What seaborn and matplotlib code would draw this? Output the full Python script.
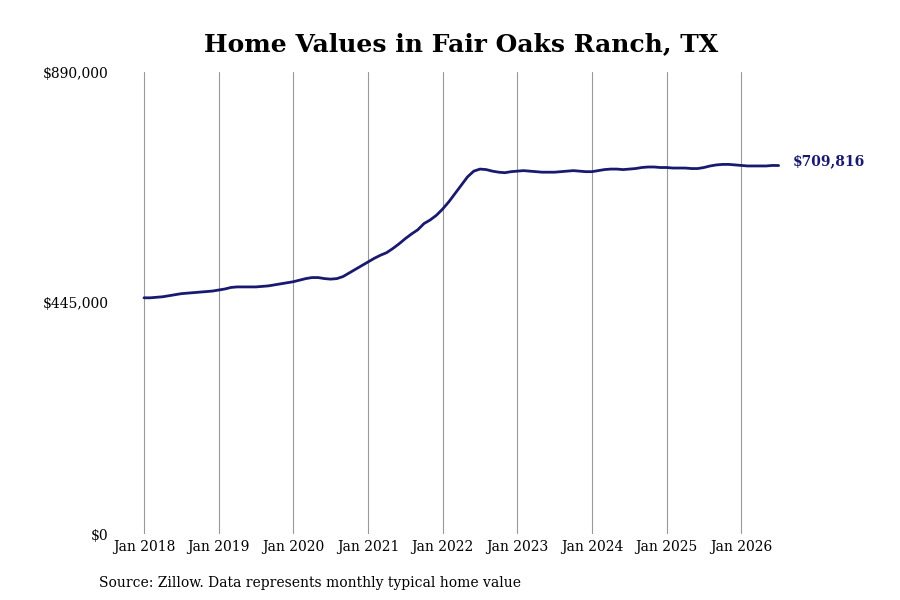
import numpy as np
import pandas as pd
import matplotlib.pyplot as plt
import seaborn as sns

# monthly typical home value, Jan 2018 - Jul 2026
values_2018 = [455000, 455000, 456000, 457000, 459000, 461000, 463000, 464000, 465000, 466000, 467000, 468000]
values_2019 = [470000, 472000, 475000, 476000, 476000, 476000, 476000, 477000, 478000, 480000, 482000, 484000]
values_2020 = [486000, 489000, 492000, 494000, 494000, 492000, 491000, 492000, 496000, 503000, 510000, 517000]
values_2021 = [524000, 531000, 537000, 542000, 550000, 559000, 569000, 578000, 586000, 598000, 605000, 614000]
values_2022 = [626000, 640000, 656000, 672000, 688000, 699000, 703000, 702000, 699000, 697000, 696000, 698000]
values_2023 = [699000, 700000, 699000, 698000, 697000, 697000, 697000, 698000, 699000, 700000, 699000, 698000]
values_2024 = [698000, 700000, 702000, 703000, 703000, 702000, 703000, 704000, 706000, 707000, 707000, 706000]
values_2025 = [706000, 705000, 705000, 705000, 704000, 704000, 706000, 709000, 711000, 712000, 712000, 711000]
values_2026 = [710000, 709000, 709000, 709000, 709000, 710000, 709816]

values = (values_2018 + values_2019 + values_2020 + values_2021 + values_2022
          + values_2023 + values_2024 + values_2025 + values_2026)
months = list(range(len(values)))

tick_months = [0, 12, 24, 36, 48, 60, 72, 84, 96]
tick_labels = ["Jan 2018", "Jan 2019", "Jan 2020", "Jan 2021", "Jan 2022",
               "Jan 2023", "Jan 2024", "Jan 2025", "Jan 2026"]
y_ticks = [0, 445000, 890000]
y_labels = ["$0", "$445,000", "$890,000"]

df = pd.DataFrame({"month": months, "value": values})

sns.set_style("white")
plt.rcParams["font.family"] = ["DejaVu Serif"]
plt.rcParams["text.color"] = "black"
plt.rcParams["xtick.color"] = "black"
plt.rcParams["ytick.color"] = "black"

line_color = "#191970"

fig = plt.figure(figsize=(9, 6), dpi=100)
ax = fig.add_axes([0.13, 0.11, 0.76, 0.77])

sns.lineplot(data=df, x="month", y="value", color=line_color, linewidth=2, ax=ax)

ax.set_xlim(-4.34, 105.6)
ax.set_ylim(0, 890000)
ax.set_xticks(tick_months)
ax.set_xticklabels(tick_labels, fontsize=10)
ax.set_yticks(y_ticks)
ax.set_yticklabels(y_labels, fontsize=10)
ax.tick_params(axis="both", length=0, pad=4)
ax.tick_params(axis="y", pad=6)

ax.xaxis.grid(True, color="#999999", linewidth=0.8)
ax.yaxis.grid(False)
for s in ax.spines.values():
    s.set_visible(False)

ax.set_xlabel("")
ax.set_ylabel("")

last = df.iloc[-1]
ax.text(last["month"] + 2.2, last["value"] + 9000, f"${last['value']:,.0f}",
        color=line_color, fontsize=10, fontweight="bold", va="center", ha="left")

fig.text(0.512, 0.915, "Home Values in Fair Oaks Ranch, TX", ha="center",
         fontsize=18, fontweight="bold")
fig.text(0.11, 0.022, "Source: Zillow. Data represents monthly typical home value",
         fontsize=10, ha="left")

fig.savefig("out.png", dpi=100)
